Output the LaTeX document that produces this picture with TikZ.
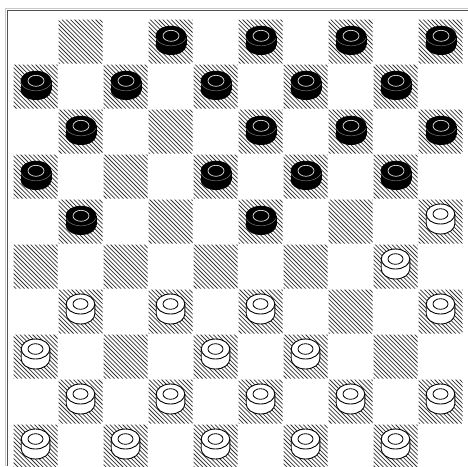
\documentclass[tikz,border=0pt]{standalone}
\tikzset{
  hatchline/.style={black!80,line width=0.75pt},
  frameouter/.style={black!22,line width=1.2pt},
  frameinner/.style={black!68,line width=1.5pt},
  bringline/.style={black!12,line width=0.7pt},
  bedgeline/.style={black!55,line width=0.5pt},
  wline/.style={black,line width=0.9pt},
}
\newcommand\bpiece[2]{%
  \pgfmathsetmacro\pcx{13+45*#2+23}%
  \pgfmathsetmacro\pcy{19+45*#1+22.5}%
  \fill[black] (\pcx,\pcy-5.7) ellipse[x radius=15.5,y radius=10];
  \fill[black] (\pcx-15.5,\pcy-5.7) rectangle (\pcx+15.5,\pcy+3.5);
  \fill[black] (\pcx,\pcy+3.5) ellipse[x radius=15.5,y radius=10];
  \draw[bedgeline] (\pcx,\pcy-5.7) ++(165:15.5 and 10) arc[start angle=165,end angle=15,x radius=15.5,y radius=10];
  \draw[bringline] (\pcx,\pcy-5.7) ellipse[x radius=8,y radius=5.5];
}
\newcommand\wpiece[2]{%
  \pgfmathsetmacro\pcx{13+45*#2+22.5}%
  \pgfmathsetmacro\pcy{19+45*#1+22.5}%
  \fill[white] (\pcx,\pcy-7.5) ellipse[x radius=14.3,y radius=10];
  \fill[white] (\pcx-14.3,\pcy-7.5) rectangle (\pcx+14.3,\pcy+2.5);
  \fill[white] (\pcx,\pcy+2.5) ellipse[x radius=14.3,y radius=10];
  \draw[wline] (\pcx-14.3,\pcy-7.5) -- (\pcx-14.3,\pcy+2.5) arc[start angle=180,end angle=0,x radius=14.3,y radius=10] -- (\pcx+14.3,\pcy-7.5);
  \draw[wline] (\pcx,\pcy-7.5) ellipse[x radius=14.3,y radius=10];
  \draw[black,line width=0.8pt] (\pcx,\pcy-7.5) ellipse[x radius=7.5,y radius=5.3];
}
\begin{document}
\begin{tikzpicture}[x=1pt,y=-1pt]
\useasboundingbox (0,0) rectangle (468,466);
\fill[white] (0,0) rectangle (468,466);
% frame
\draw[frameouter] (5.5,466) -- (5.5,8.5) -- (468,8.5);
\draw[frameinner] (7.5,466) -- (7.5,10.5) -- (468,10.5);
% hatched dark squares
\begin{scope}
  \clip foreach \r in {0,...,9} {foreach \k in {0,...,4} {({13.5+45*(2*\k+mod(\r+1,2))},{19.5+45*\r}) rectangle ++(44,44)}};
  \foreach \k in {0,...,230} \draw[hatchline] ({-470+4.2*\k},0) -- ++(475,475);
\end{scope}
% black pieces
\foreach \r/\c in {0/3,0/5,0/7,0/9,1/0,1/2,1/4,1/6,1/8,2/1,2/5,2/7,2/9,3/0,3/4,3/6,3/8,4/1,4/5}{\bpiece{\r}{\c}}
% white pieces
\foreach \r/\c in {4/9,5/8,6/1,6/3,6/5,6/9,7/0,7/4,7/6,8/1,8/3,8/5,8/7,8/9,9/0,9/2,9/4,9/6,9/8}{\wpiece{\r}{\c}}
\end{tikzpicture}
\end{document}
